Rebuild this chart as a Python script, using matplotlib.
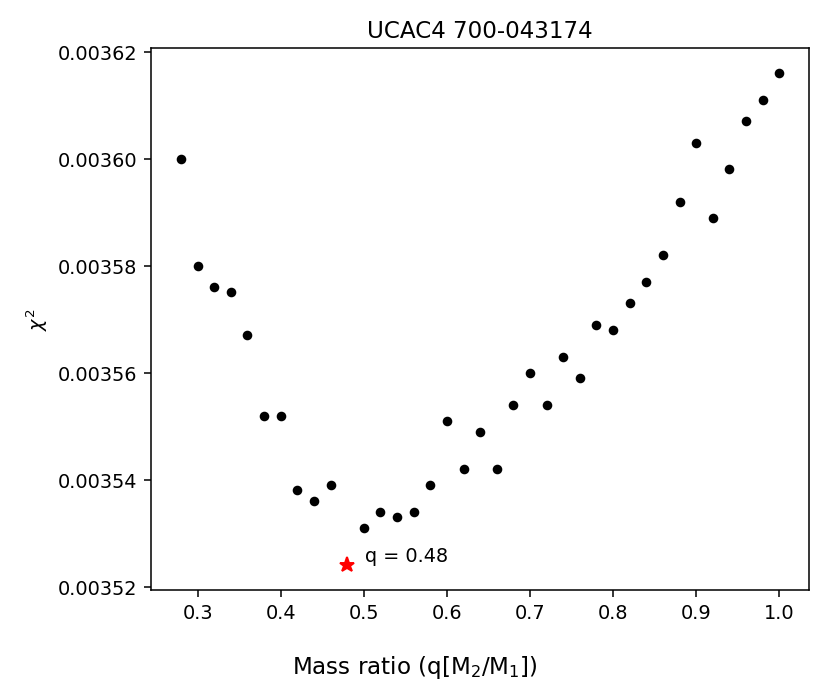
import matplotlib
matplotlib.use("Agg")
import matplotlib.pyplot as plt

q = [0.28, 0.30, 0.32, 0.34, 0.36, 0.38, 0.40, 0.42, 0.44, 0.46,
     0.50, 0.52, 0.54, 0.56, 0.58, 0.60, 0.62, 0.64, 0.66, 0.68,
     0.70, 0.72, 0.74, 0.76, 0.78, 0.80, 0.82, 0.84, 0.86, 0.88,
     0.90, 0.92, 0.94, 0.96, 0.98, 1.00]
chi2 = [0.003600, 0.003580, 0.003576, 0.003575, 0.003567, 0.003552, 0.003552,
        0.003538, 0.003536, 0.003539, 0.003531, 0.003534, 0.003533, 0.003534,
        0.003539, 0.003551, 0.003542, 0.003549, 0.003542, 0.003554, 0.003560,
        0.003554, 0.003563, 0.003559, 0.003569, 0.003568, 0.003573, 0.003577,
        0.003582, 0.003592, 0.003603, 0.003589, 0.003598, 0.003607, 0.003611,
        0.003616]
best_q = 0.48
best_chi2 = 0.003524
label = "q = 0.48"

fig = plt.figure(figsize=(6, 5), dpi=138.33)
ax = fig.add_axes([0.182, 0.146, 0.793, 0.783])
ax.plot(q, chi2, 'o', color='black', markersize=4)
ax.plot([best_q], [best_chi2], '*', color='red', markersize=8)
ax.text(best_q + 0.021, best_chi2 + 0.0000008, label, fontsize=10)
ax.set_title("UCAC4 700-043174", fontsize=12)
fig.supxlabel(r"Mass ratio (q[M$_2$/M$_1$])", fontsize=12, y=0.015)
ax.set_ylabel(r"$\chi^2$", fontsize=10)
fig.savefig("out.png", dpi=138.33)
